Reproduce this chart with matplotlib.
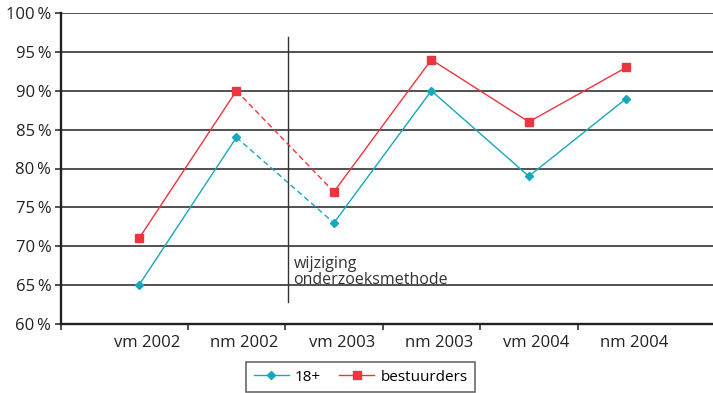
import matplotlib
matplotlib.use("Agg")
import matplotlib.pyplot as plt
from matplotlib.lines import Line2D

plt.rcParams['font.family'] = ['Open Sans', 'DejaVu Sans']

categories = ["vm 2002", "nm 2002", "vm 2003", "nm 2003", "vm 2004", "nm 2004"]
adults = [65, 84, 73, 90, 79, 89]          # 18+
drivers = [71, 90, 77, 94, 86, 93]         # bestuurders
y_ticks = [60, 65, 70, 75, 80, 85, 90, 95, 100]
dashed_segment = 1   # segment from nm 2002 to vm 2003 (method change)

teal = "#15a9bb"
red = "#ec3540"
ink = "#222222"

fig = plt.figure(figsize=(7.13, 3.93), dpi=100)
ax = fig.add_axes([61/713, 1-324/393, 1-61/713, (324-13)/393])

x = list(range(len(categories)))

def draw_series(vals, color, marker, ms):
    for i in range(len(vals) - 1):
        ls = (0, (4, 2.5)) if i == dashed_segment else '-'
        ax.plot(x[i:i+2], vals[i:i+2], color=color, lw=1.0, ls=ls, zorder=3)
    ax.plot(x, vals, ls='none', marker=marker, ms=ms, color=color, zorder=4)

draw_series(adults, teal, 'D', 4.5)
draw_series(drivers, red, 's', 6.2)

ax.set_ylim(60, 100)
ax.set_xlim(-0.80, 5.89)
ax.set_yticks(y_ticks)
ax.set_yticklabels([f"{v}\u2009%" for v in y_ticks], fontsize=12, color=ink)
for v in y_ticks[1:]:
    ax.axhline(v, color=ink, lw=1.1, zorder=1)

# category separators as major ticks, category names as (unmarked) minor ticks
ax.set_xticks([i + 0.5 for i in x[:-1]] + [-0.80])
ax.set_xticklabels([])
label_nudge = 0.08
ax.set_xticks([i + label_nudge for i in x], minor=True)
ax.set_xticklabels(categories, minor=True, fontsize=12, color=ink)
ax.tick_params(axis='x', which='minor', length=0, pad=8)
ax.tick_params(axis='x', which='major', length=4, width=1.1, color=ink)
ax.tick_params(axis='y', length=4, width=1.1, color=ink, pad=3)

for s in ['top', 'right']:
    ax.spines[s].set_visible(False)
for s in ['left', 'bottom']:
    ax.spines[s].set_color(ink)
    ax.spines[s].set_linewidth(1.7)

# method change marker
ax.plot([1.53, 1.53], [62.8, 96.9], color="#333333", lw=1.0, zorder=2)
ax.text(1.585, 64.6, "wijziging\nonderzoeksmethode", fontsize=11.5,
        color="#333333", va='bottom', ha='left', linespacing=1.05)

handles = [
    Line2D([], [], color=teal, lw=1.0, marker='D', ms=4.5),
    Line2D([], [], color=red, lw=1.0, marker='s', ms=6.2),
]
leg = fig.legend(handles, ["18+", "bestuurders"], loc='upper left',
                 bbox_to_anchor=(246/713, 1-362/393), ncol=2, fontsize=11,
                 frameon=True, fancybox=False, handlelength=2.3,
                 columnspacing=1.2, handletextpad=0.4, borderpad=0.5,
                 borderaxespad=0)
leg.get_frame().set_edgecolor("#444444")
leg.get_frame().set_linewidth(1.2)

fig.savefig("out.png", dpi=100)
